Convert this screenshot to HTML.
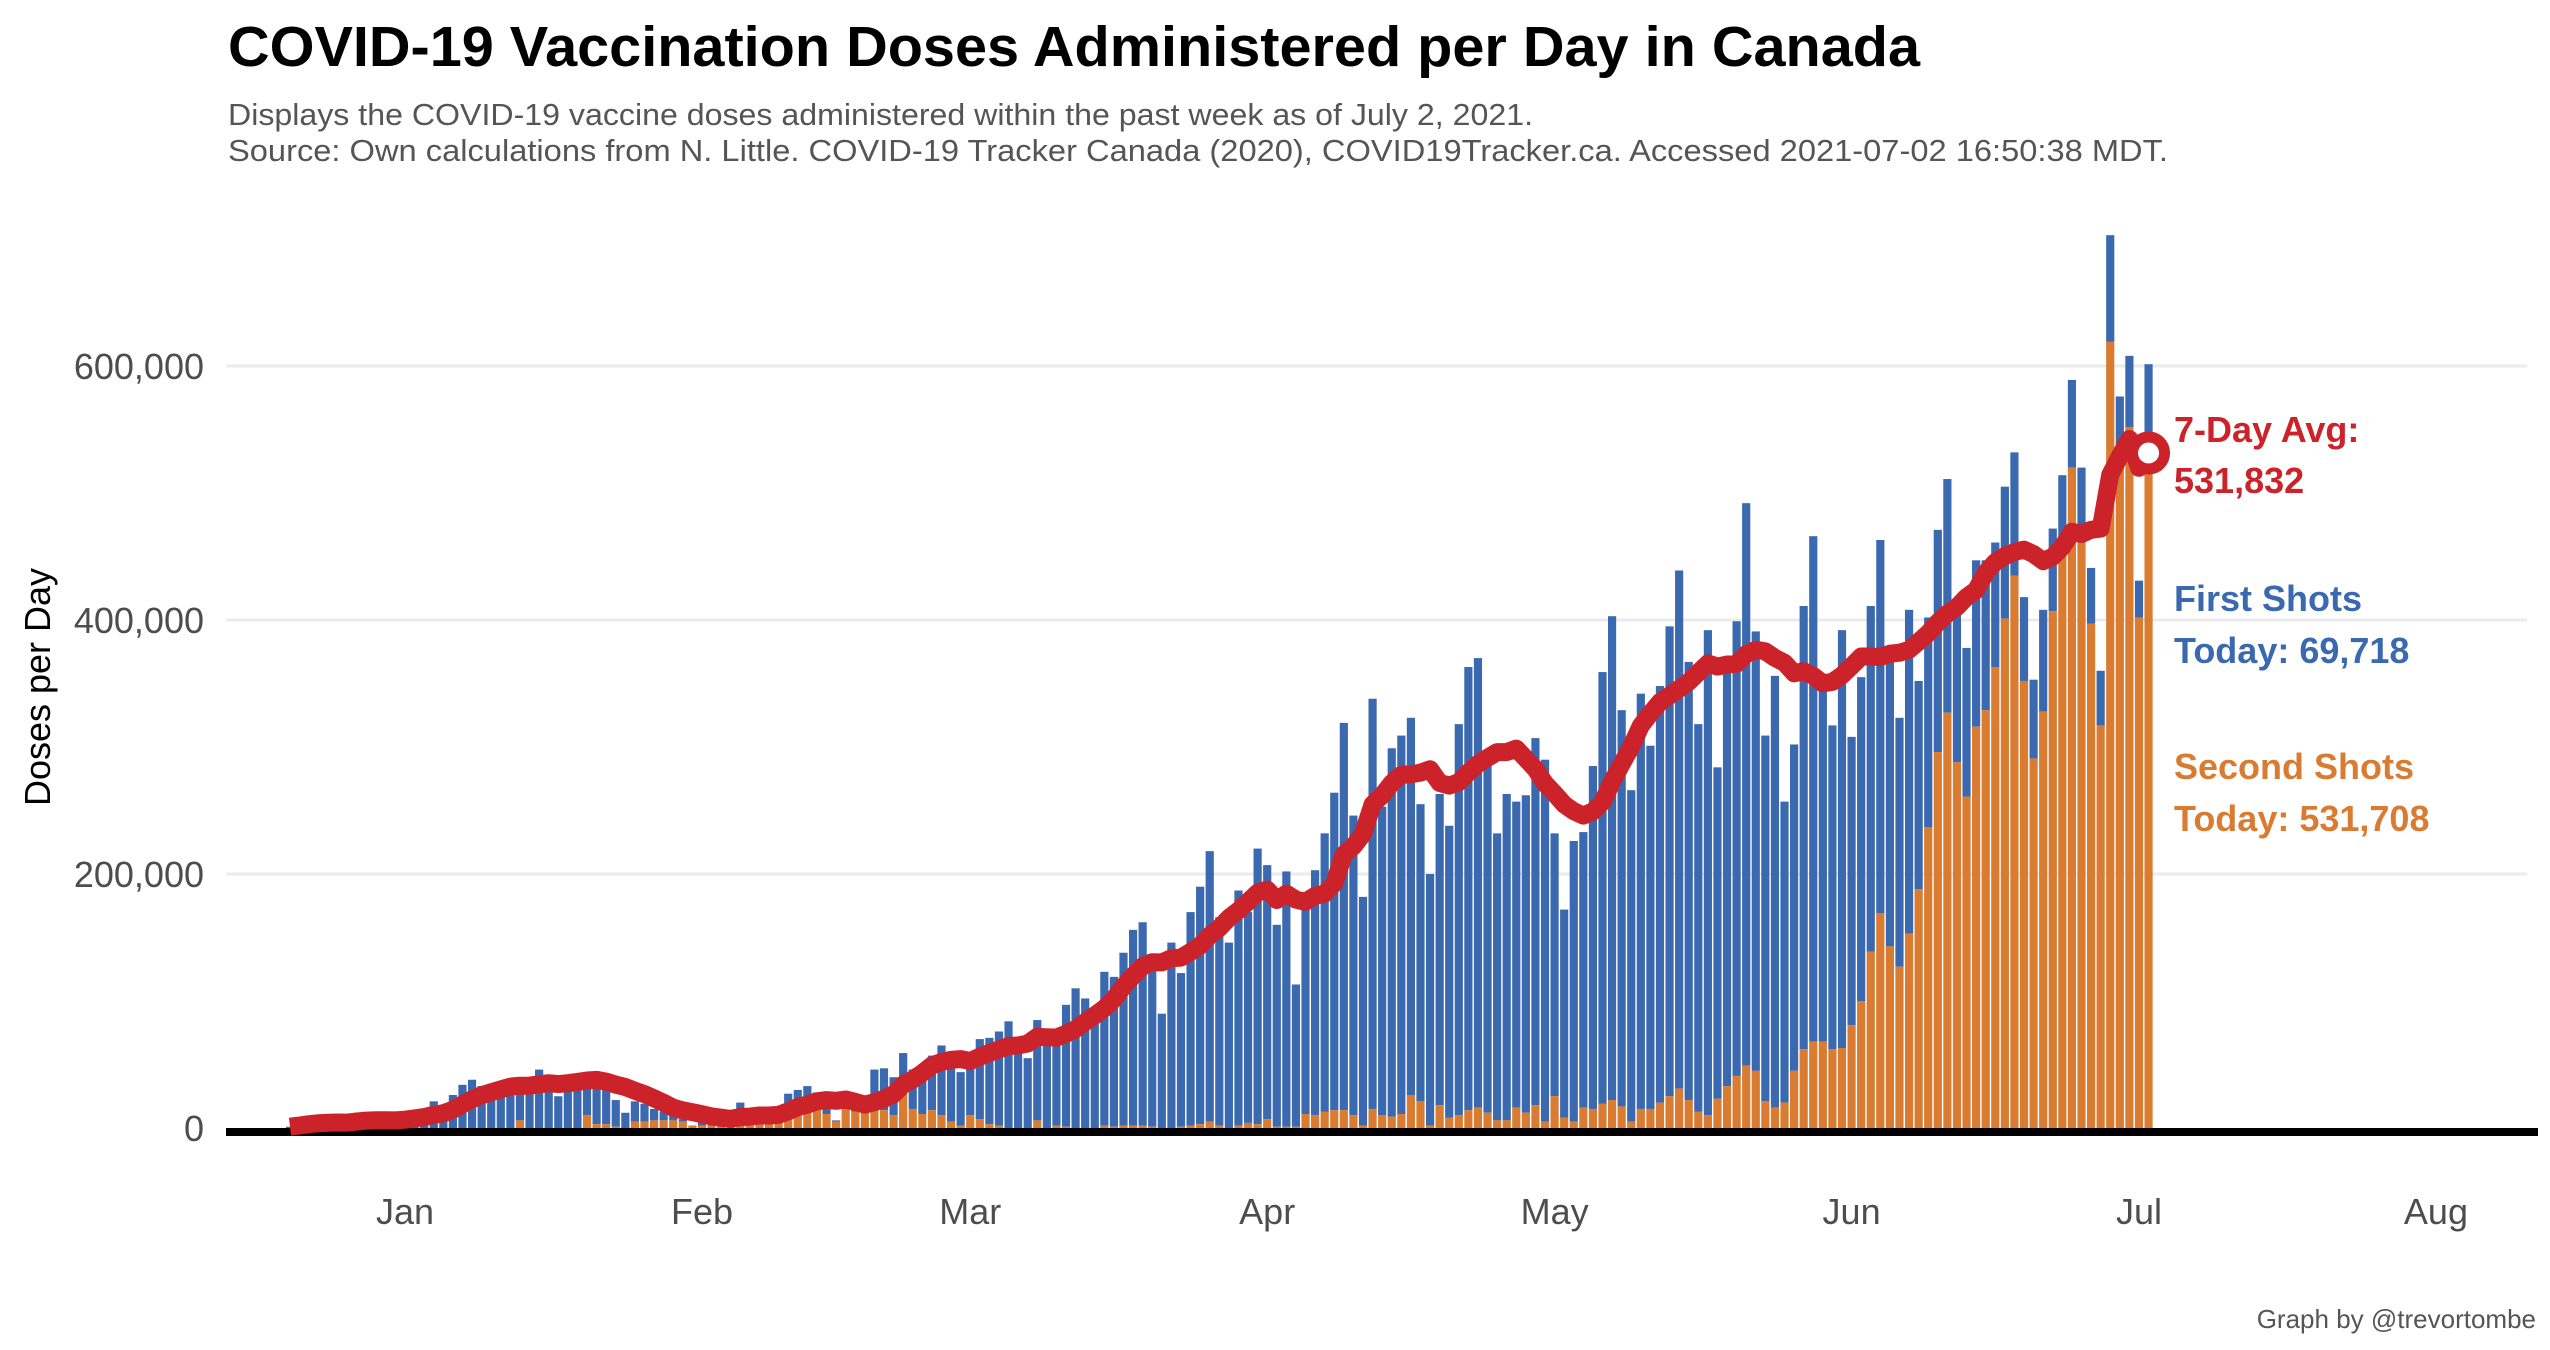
<!DOCTYPE html>
<html><head><meta charset="utf-8"><style>
html,body{margin:0;padding:0;background:#fff;}
svg{display:block;font-family:"Liberation Sans",Arial,sans-serif;}
</style></head><body>
<svg id="chart" width="2550" height="1350" viewBox="0 0 2550 1350" xmlns="http://www.w3.org/2000/svg">
<rect x="0" y="0" width="2550" height="1350" fill="#fff"/>
<text x="228" y="66" font-size="57" font-weight="bold" fill="#000" textLength="1692" lengthAdjust="spacingAndGlyphs">COVID-19 Vaccination Doses Administered per Day in Canada</text>
<text x="228" y="125" font-size="31" fill="#555" textLength="1305" lengthAdjust="spacingAndGlyphs">Displays the COVID-19 vaccine doses administered within the past week as of July 2, 2021.</text>
<text x="228" y="161" font-size="31" fill="#555" textLength="1940" lengthAdjust="spacingAndGlyphs">Source: Own calculations from N. Little. COVID-19 Tracker Canada (2020), COVID19Tracker.ca. Accessed 2021-07-02 16:50:38 MDT.</text>
<text transform="translate(50,687) rotate(-90)" text-anchor="middle" font-size="36" fill="#000">Doses per Day</text>
<g id="grid"></g>
<g id="bars"></g>
<g id="axis"></g>
<g id="line"></g>
<text x="2174" y="442" font-size="36" font-weight="bold" fill="#cc232b">7-Day Avg:</text>
<text x="2174" y="493" font-size="36" font-weight="bold" fill="#cc232b">531,832</text>
<text x="2174" y="611" font-size="36" font-weight="bold" fill="#3a69b0">First Shots</text>
<text x="2174" y="663" font-size="36" font-weight="bold" fill="#3a69b0">Today: 69,718</text>
<text x="2174" y="779" font-size="36" font-weight="bold" fill="#d97b30">Second Shots</text>
<text x="2174" y="831" font-size="36" font-weight="bold" fill="#d97b30">Today: 531,708</text>
<text x="2536" y="1328" text-anchor="end" font-size="26" fill="#555">Graph by @trevortombe</text>
</svg>
<script>
// day offsets from 2021-01-01; first bar = Dec 20, 2020 (day -12)
const startDay = -12;
const totalDoses = [1000,3000,5000,6000,6000,5000,4000,7000,8000,7000,6000,5000,9000,11000,14000,
21000,15000,26000,34000,38000,33000,30000,37000,30000,31000,
34000,46000,39000,25000,42000,37000,39000,37000,37000,22000,
12000,21000,19000,15000,13000,10000,7000,2000,10000,7000,
8000,6000,20000,10000,8000,10000,11000,27000,30000,33000,
28000,15000,6000,18000,14000,15000,46000,47000,40000,
59000,46000,50000,57000,65000,59000,44000,48000,70000,71000,
76000,84000,62000,55000,85000,67000,69000,97000,110000,102000,
91000,123000,119000,138000,156000,162000,125000,90000,146000,122000,
170000,190000,218000,166000,146000,187000,170000,220000,207000,160000,
202000,113000,175000,203000,232000,264000,319000,246000,182000,338000,
253000,299000,309000,323000,255000,200000,263000,238000,318000,363000,
370000,288000,232000,263000,257000,262000,307000,290000,232000,172000,
226000,233000,285000,359000,403000,329000,266000,342000,301000,348000,
395000,439000,367000,318000,392000,284000,360000,399000,492000,391000,
309000,356000,257000,302000,411000,466000,350000,317000,392000,308000,
355000,411000,463000,368000,323000,408000,352000,402000,471000,511000,
404000,378000,447000,447000,461000,505000,532000,418000,353000,408000,
472000,514000,589000,520000,441000,360000,703000,576000,608000,431000,601426];
const secondDoses = [0,0,0,0,0,0,0,0,0,0,0,0,0,0,0,
0,0,0,0,0,0,0,0,0,6000,
0,0,0,0,0,0,10000,3000,3000,1000,
0,5000,5000,6000,6000,6000,5000,2000,2000,2000,
6000,5000,5000,5000,5000,7000,9000,12000,14000,15000,
18000,11000,5000,15000,13000,14000,16000,14000,10000,
29000,15000,11000,14000,10000,5000,2000,10000,7000,3000,
2000,0,0,0,6000,0,2000,1000,0,0,
0,2000,1000,2000,2000,2000,1000,0,0,1000,
2000,3000,5000,2000,0,2000,4000,3000,7000,1000,
1000,1000,11000,10000,13000,14000,14000,10000,2000,15000,
10000,9000,11000,26000,21000,2000,18000,8000,10000,14000,
16000,12000,6000,6000,16000,12000,18000,5000,25000,8000,
5000,16000,15000,19000,22000,17000,5000,15000,15000,20000,
25000,31000,22000,13000,10000,23000,33000,41000,49000,45000,
21000,16000,20000,45000,62000,68000,68000,62000,63000,81000,
100000,139000,169000,143000,127000,153000,188000,237000,296000,327000,
288000,261000,316000,329000,363000,401000,435000,352000,291000,328000,
407000,454000,520000,461000,397000,317000,619000,528000,552000,402000,531708];
const yTicks = [0,200000,400000,600000];
const yTickLabels = ["0","200,000","400,000","600,000"];
const monthDays = [0,31,59,90,120,151,181,212];
const monthLabels = ["Jan","Feb","Mar","Apr","May","Jun","Jul","Aug"];

const NS = "http://www.w3.org/2000/svg";
const X0 = 405, DAYW = 9.58, Y0 = 1128, PXPER = 254/200000;
function xScale(d){ return X0 + d*DAYW; }
function yScale(v){ return Y0 - v*PXPER; }
function mk(tag, attrs, parent){ const e=document.createElementNS(NS,tag); for(const k in attrs) e.setAttribute(k,attrs[k]); parent.appendChild(e); return e; }

const grid=document.getElementById('grid'), bars=document.getElementById('bars'), axis=document.getElementById('axis'), lineG=document.getElementById('line');
yTicks.forEach((t,i)=>{
  if(t>0){
    const g=mk('line',{x1:226,x2:2527,y1:yScale(t),y2:yScale(t),stroke:'#ebebeb','stroke-width':3},grid);
    
    
  }
  const tl=mk('text',{x:204,y:yScale(t)+13,'text-anchor':'end','font-size':36,fill:'#4d4d4d'},axis);
  tl.textContent=yTickLabels[i];
  
  
});
monthDays.forEach((d,i)=>{
  const t=mk('text',{x:xScale(d),y:1224,'text-anchor':'middle','font-size':36,fill:'#4d4d4d'},axis);
  t.textContent=monthLabels[i];
  
  
});
const bw=DAYW-1.4;
totalDoses.forEach((tot,i)=>{
  const d=startDay+i, x=xScale(d)-bw/2;
  const sec=secondDoses[i];
  const b=mk('rect',{x:x,y:yScale(tot),width:bw,height:Math.max(0,yScale(sec)-yScale(tot)),fill:'#3a69b0'},bars);
  
  
  if(sec>0){
    const o=mk('rect',{x:x,y:yScale(sec),width:bw,height:Y0-yScale(sec),fill:'#d97b30'},bars);
    
    
  }
});
const ax=mk('line',{x1:226,x2:2538,y1:Y0+4,y2:Y0+4,stroke:'#000','stroke-width':8},axis);


// 7-day rolling average
const pts=[];
totalDoses.forEach((v,i)=>{
  const s=Math.max(0,i-6); let sum=0; for(let j=s;j<=i;j++) sum+=totalDoses[j];
  pts.push([xScale(startDay+i), yScale(sum/(i-s+1))]);
});
const pl=mk('polyline',{points:pts.map(p=>p[0].toFixed(1)+','+p[1].toFixed(1)).join(' '),fill:'none',stroke:'#cc232b','stroke-width':18,'stroke-linejoin':'round','stroke-linecap':'butt'},lineG);


const last=pts[pts.length-1];
const c=mk('circle',{cx:last[0],cy:last[1],r:16,fill:'#fff',stroke:'#cc232b','stroke-width':11},lineG);


</script>
</body></html>
